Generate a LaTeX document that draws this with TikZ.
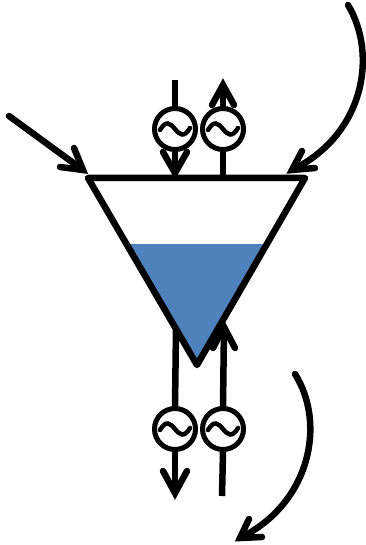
\documentclass[tikz,border=0pt]{standalone}
\usetikzlibrary{calc}
\definecolor{water}{HTML}{4F81BD}
\tikzset{
  px/.style={x=1pt,y=-1pt},
  conn/.style={line width=6.5pt,line cap=round,line join=round},
  stem/.style={line width=6.5pt},
  barb/.style={line width=6.5pt,line cap=round,line join=miter,miter limit=10},
  src/.style={circle,draw,line width=5pt,minimum size=41pt,inner sep=0pt,fill=white},
  wave/.style={line width=4.5pt,line cap=round},
  vessel/.style={line width=6.5pt,line join=round}
}
\newcommand{\tildeat}[1]{\draw[wave] ($(#1)+(-15,1)$) .. controls ($(#1)+(-9,-9)$) and ($(#1)+(-5,-6)$) .. (#1) .. controls ($(#1)+(5,6)$) and ($(#1)+(9,9)$) .. ($(#1)+(15,-1)$);}
\newcommand{\barbhead}[3]{\draw[barb] (#2) -- (#1) -- (#3);}
\begin{document}
\begin{tikzpicture}[px]
\useasboundingbox (0,0) rectangle (366,545);
% vessel corners
\coordinate (tl) at (88,178);
\coordinate (tr) at (305,178);
\coordinate (bt) at (197,365);
\coordinate (wl) at (128,244);
\coordinate (wr) at (266,244);
% lower connectors, behind the vessel
\node[src] (s3) at (175,429) {};
\node[src] (s4) at (223,429) {};
\coordinate (s3top) at (176,330);
\coordinate (s3tip) at (175,493);
\coordinate (s3a) at (163,471);
\coordinate (s3b) at (187,471);
\coordinate (s4end) at (222,496);
\coordinate (s4tip) at (224,327);
\coordinate (s4a) at (213,348);
\coordinate (s4b) at (235,348);
\draw[stem] (s3top) -- (s3.north);
\draw[stem] (s3.south) -- ($(s3tip)+(0,-3)$);
\barbhead{s3tip}{s3a}{s3b}
\draw[stem] (s4end) -- (s4.south);
\draw[stem] (s4.north) -- (s4tip);
\barbhead{s4tip}{s4a}{s4b}
% water and vessel
\fill[water] (wl) -- (wr) -- (bt) -- cycle;
\draw[vessel] (tl) -- (tr) -- (bt) -- cycle;
% upper sources
\node[src] (s1) at (175,129) {};
\node[src] (s2) at (223,129) {};
\coordinate (s1start) at (175,80);
\coordinate (s1tip) at (175,173);
\coordinate (s1a) at (163,152);
\coordinate (s1b) at (187,152);
\coordinate (s2base) at (223,176);
\coordinate (s2tip) at (223,85);
\coordinate (s2a) at (212,105);
\coordinate (s2b) at (234,105);
\draw[stem] (s1start) -- (s1.north);
\draw[stem] (s1.south) -- ($(s1tip)+(0,-3)$);
\barbhead{s1tip}{s1a}{s1b}
\draw[stem] (s2base) -- (s2.south);
\draw[stem] (s2.north) -- ($(s2tip)+(0,3)$);
\barbhead{s2tip}{s2a}{s2b}
\tildeat{s1.center}\tildeat{s2.center}\tildeat{s3.center}\tildeat{s4.center}
% flows
\coordinate (a1) at (9,116);
\coordinate (a1t) at (83,170);
\coordinate (a1a) at (74,148);
\coordinate (a1b) at (60,167);
\draw[conn] (a1) -- (a1t);
\barbhead{a1t}{a1a}{a1b}
\coordinate (a2) at (348,5);
\coordinate (a2t) at (292,170);
\coordinate (a2a) at (302,151);
\coordinate (a2b) at (315,168);
\draw[conn] (a2) .. controls (378,55) and (364,135) .. (a2t);
\barbhead{a2t}{a2a}{a2b}
\coordinate (a3) at (295,374);
\coordinate (a3t) at (240,538);
\coordinate (a3a) at (249,519);
\coordinate (a3b) at (262,537);
\draw[conn] (a3) .. controls (326,423) and (311,503) .. (a3t);
\barbhead{a3t}{a3a}{a3b}
\end{tikzpicture}
\end{document}
